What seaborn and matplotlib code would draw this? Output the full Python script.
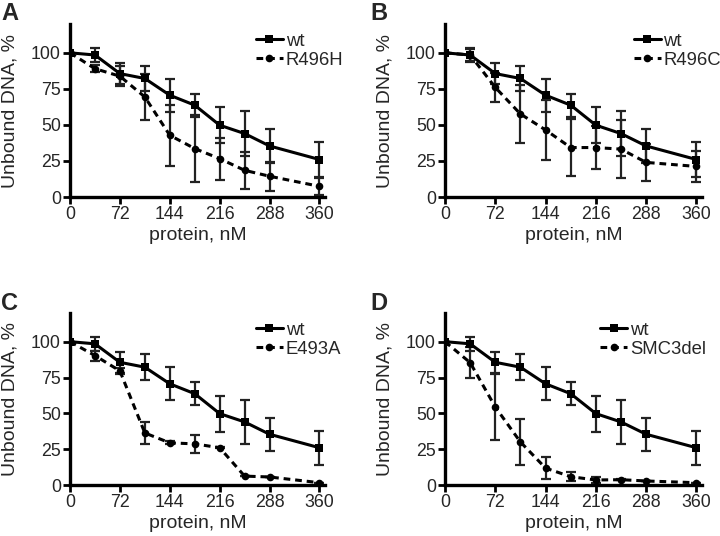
import numpy as np
import pandas as pd
import seaborn as sns
from matplotlib import pyplot as plt

# protein concentrations, nM
dose = [0, 36, 72, 108, 144, 180, 216, 252, 288, 360]

# wild type, same in every panel
wt = [100, 98.5, 85.6, 82.2, 70.6, 63.7, 49.8, 44, 35.4, 26]
wt_err = [0, 5, 7.5, 9, 11.5, 8, 12.5, 15.5, 11.6, 12]

# mutants
r496h = [100, 89, 83.8, 69.4, 42.8, 33.6, 26.6, 18.5, 14.4, 7.4]
r496h_err = [0, 2.5, 7, 16, 21, 23, 14.5, 12.7, 10, 6]

r496c = [100, 98.5, 76, 57.6, 46.5, 34.3, 34.3, 33.2, 24, 21.2]
r496c_err = [0, 4, 10, 20, 21, 20, 15, 20, 13, 10.5]

e493a = [100, 90.3, 79.6, 36.3, 29.4, 28.7, 26, 6.2, 5.6, 1.6]
e493a_err = [0, 3.5, 2, 7.5, 1, 6.5, 0.5, 0, 0, 0]

smc3del = [100, 85.4, 54.4, 30, 11.8, 5.8, 3.5, 3.7, 2.8, 1.6]
smc3del_err = [0, 11, 23, 16, 7.5, 3, 2, 0.5, 0, 0]

panels = [
    ('A', 'R496H', r496h, r496h_err),
    ('B', 'R496C', r496c, r496c_err),
    ('C', 'E493A', e493a, e493a_err),
    ('D', 'SMC3del', smc3del, smc3del_err),
]

sns.set_style('ticks')
plt.rcParams['font.family'] = ['Liberation Sans', 'DejaVu Sans']

fig = plt.figure(figsize=(7.2, 5.36), dpi=100)

# axes boxes in figure fractions: left, bottom, width, height
boxes = [
    (70 / 720, 1 - 197 / 536, 255 / 720, 173 / 536),
    (445 / 720, 1 - 197 / 536, 257 / 720, 173 / 536),
    (70 / 720, 1 - 485 / 536, 255 / 720, 172 / 536),
    (445 / 720, 1 - 485 / 536, 257 / 720, 172 / 536),
]
letter_pos = [(1, 2), (370, 2), (1, 292), (370, 292)]
legend_x = [0.715, 0.72, 0.715, 0.59]

for (letter, name, mut, mut_err), box, lp, lx in zip(panels, boxes, letter_pos, legend_x):
    ax = fig.add_axes(box)
    ax.errorbar(dose, wt, yerr=wt_err, fmt='none', ecolor='#222222',
                elinewidth=1.6, capsize=3.8, capthick=1.6, zorder=2)
    ax.errorbar(dose, mut, yerr=mut_err, fmt='none', ecolor='#222222',
                elinewidth=1.6, capsize=3.8, capthick=1.6, zorder=2)
    sns.lineplot(x=dose, y=wt, ax=ax, color='black', lw=2.2, marker='s',
                 markersize=5.5, markeredgewidth=0, label='wt', zorder=3)
    sns.lineplot(x=dose, y=mut, ax=ax, color='black', lw=2.2, ls=(0, (2.2, 1.6)),
                 marker='o', markersize=5.5, markeredgewidth=0, label=name, zorder=3)

    ax.set_xlim(0, 368)
    ax.set_ylim(0, 120)
    ax.set_xticks([0, 72, 144, 216, 288, 360])
    ax.set_yticks([0, 25, 50, 75, 100])
    ax.tick_params(labelsize=12.8, width=2, length=5, color='black', pad=1.5)
    for s in ['left', 'bottom']:
        ax.spines[s].set_linewidth(2.4)
        ax.spines[s].set_color('black')
    sns.despine(ax=ax)
    ax.set_xlabel('protein, nM', fontsize=14, labelpad=3)
    ax.set_ylabel('Unbound DNA, %', fontsize=14, labelpad=9)

    ax.legend(loc='upper left', bbox_to_anchor=(lx, 0.97), frameon=False,
              fontsize=13.3, handlelength=1.45, handletextpad=0.15,
              labelspacing=0.1, borderaxespad=0, borderpad=0.2)

    fig.text(lp[0] / 720, 1 - lp[1] / 536, letter, fontsize=17,
             fontweight='bold', ha='left', va='top')

fig.savefig('out.png', dpi=100)
